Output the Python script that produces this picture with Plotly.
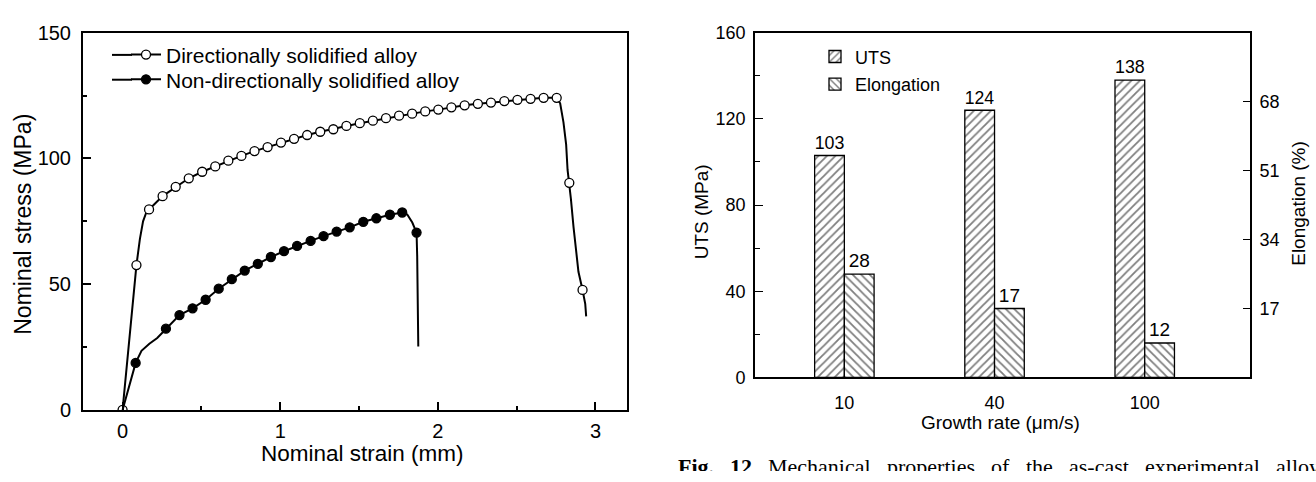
import plotly.graph_objects as go

# ---------------- Left chart data: stress-strain curves ----------------
# Directionally solidified alloy: marker points
ds_mx = [0.0, 0.088, 0.168, 0.254, 0.337, 0.42, 0.505, 0.588, 0.671, 0.754, 0.837, 0.92,
         1.005, 1.088, 1.171, 1.254, 1.337, 1.42, 1.505, 1.588, 1.671, 1.754, 1.837, 1.92,
         2.003, 2.086, 2.17, 2.254, 2.337, 2.422, 2.505, 2.588, 2.671, 2.754, 2.834, 2.918]
ds_my = [0.0, 57.6, 79.7, 85.0, 88.7, 92.1, 94.7, 96.8, 99.1, 101.0, 102.9, 104.5,
         106.3, 107.8, 109.3, 110.6, 111.6, 112.9, 114.0, 115.0, 116.0, 117.0, 117.8, 118.7,
         119.4, 120.3, 121.1, 121.7, 122.2, 122.8, 123.3, 123.7, 124.1, 124.1, 90.3, 47.7]
# Directionally solidified alloy: full curve path
ds_lx = [0.0, 0.04, 0.088, 0.11, 0.13, 0.15, 0.168, 0.254, 0.337, 0.42, 0.505, 0.588, 0.671,
         0.754, 0.837, 0.92, 1.005, 1.088, 1.171, 1.254, 1.337, 1.42, 1.505, 1.588, 1.671,
         1.754, 1.837, 1.92, 2.003, 2.086, 2.17, 2.254, 2.337, 2.422, 2.505, 2.588, 2.671,
         2.754, 2.776, 2.797, 2.814, 2.823, 2.834, 2.844, 2.861, 2.878, 2.892, 2.918, 2.935, 2.941]
ds_ly = [0.0, 26.0, 57.6, 68.0, 75.0, 78.4, 79.7, 85.0, 88.7, 92.1, 94.7, 96.8, 99.1,
         101.0, 102.9, 104.5, 106.3, 107.8, 109.3, 110.6, 111.6, 112.9, 114.0, 115.0, 116.0,
         117.0, 117.8, 118.7, 119.4, 120.3, 121.1, 121.7, 122.2, 122.8, 123.3, 123.7, 124.1,
         124.1, 121.9, 114.3, 105.5, 95.4, 90.3, 84.0, 72.6, 61.2, 54.9, 47.7, 42.2, 37.2]

# Non-directionally solidified alloy: marker points
nd_mx = [0.083, 0.275, 0.361, 0.444, 0.527, 0.61, 0.693, 0.775, 0.858, 0.941, 1.024, 1.107,
         1.193, 1.275, 1.358, 1.441, 1.527, 1.61, 1.696, 1.774, 1.865]
nd_my = [18.7, 32.3, 37.7, 40.4, 43.8, 48.2, 52.0, 55.4, 58.1, 60.8, 63.1, 65.2,
         67.2, 69.1, 70.9, 72.6, 74.8, 76.2, 77.6, 78.5, 70.5]
# Non-directionally solidified alloy: full curve path
nd_lx = [0.0, 0.04, 0.083, 0.12, 0.17, 0.22, 0.275, 0.361, 0.444, 0.527, 0.61, 0.693, 0.775,
         0.858, 0.941, 1.024, 1.107, 1.193, 1.275, 1.358, 1.441, 1.527, 1.61, 1.696, 1.774,
         1.806, 1.838, 1.865, 1.869, 1.872, 1.876]
nd_ly = [0.0, 9.0, 18.7, 23.5, 26.3, 28.6, 32.3, 37.7, 40.4, 43.8, 48.2, 52.0, 55.4,
         58.1, 60.8, 63.1, 65.2, 67.2, 69.1, 70.9, 72.6, 74.8, 76.2, 77.6, 78.5,
         77.7, 74.5, 70.5, 61.2, 45.0, 25.2]

series_names = ["Directionally solidified alloy", "Non-directionally solidified alloy"]

# ---------------- Right chart data: bars ----------------
growth_rates = ["10", "40", "100"]
uts_values = [103, 124, 138]
uts_labels = ["103", "124", "138"]
elong_bar_heights = [25.5, 17.0, 8.5]      # drawn bar heights
elong_labels = ["28", "17", "12"]           # printed labels above bars
right_ticks = [17, 34, 51, 68]

# figure caption (justified line, cut off by the bottom edge in the reference)
caption_words = ["<b>Fig.</b>", "<b>12</b>", "Mechanical", "properties", "of", "the",
                 "as-cast", "experimental", "alloy"]
caption_word_px = [678, 730, 768, 887, 991, 1026, 1069, 1145, 1276]

FONT = "Arial, Liberation Sans, sans-serif"
SERIF = "Times New Roman, Liberation Serif, serif"
W, H = 1316, 482

def px(xp):
    return xp / W

def py(yp):
    return 1 - yp / H

fig = go.Figure()

# Left chart curves
fig.add_trace(go.Scatter(x=ds_lx, y=ds_ly, mode="lines", line=dict(color="black", width=2),
                         showlegend=False, xaxis="x", yaxis="y", hoverinfo="skip"))
fig.add_trace(go.Scatter(x=ds_mx, y=ds_my, mode="markers",
                         marker=dict(symbol="circle", size=9, color="white",
                                     line=dict(color="black", width=1.3)),
                         showlegend=False, xaxis="x", yaxis="y"))
fig.add_trace(go.Scatter(x=nd_lx, y=nd_ly, mode="lines", line=dict(color="black", width=2),
                         showlegend=False, xaxis="x", yaxis="y", hoverinfo="skip"))
fig.add_trace(go.Scatter(x=nd_mx, y=nd_my, mode="markers",
                         marker=dict(symbol="circle", size=9, color="black",
                                     line=dict(color="black", width=1.3)),
                         showlegend=False, xaxis="x", yaxis="y"))
# legend entries (one legend box per entry so each row sits where the reference has it)
fig.add_trace(go.Scatter(x=[None], y=[None], mode="lines+markers", name=series_names[0],
                         line=dict(color="black", width=2),
                         marker=dict(symbol="circle", size=9, color="white",
                                     line=dict(color="black", width=1.3)),
                         xaxis="x", yaxis="y", legend="legend"))
fig.add_trace(go.Scatter(x=[None], y=[None], mode="lines+markers", name=series_names[1],
                         line=dict(color="black", width=2),
                         marker=dict(symbol="circle", size=9, color="black",
                                     line=dict(color="black", width=1.3)),
                         xaxis="x", yaxis="y", legend="legend3"))

# Right chart bars
idx = list(range(len(growth_rates)))
BW = 0.198
fig.add_trace(go.Bar(x=idx, y=uts_values, name="UTS", width=BW, offset=-BW,
                     marker=dict(color="white", line=dict(color="black", width=1.3),
                                 pattern=dict(shape="/", fgcolor="black", bgcolor="white",
                                              size=6, solidity=0.3)),
                     text=uts_labels, textposition="outside", cliponaxis=False,
                     textfont=dict(family=FONT, size=19, color="black"),
                     xaxis="x2", yaxis="y2", legend="legend2"))
fig.add_trace(go.Bar(x=idx, y=elong_bar_heights, name="Elongation", width=BW, offset=0,
                     marker=dict(color="white", line=dict(color="black", width=1.3),
                                 pattern=dict(shape="\\", fgcolor="black", bgcolor="white",
                                              size=6, solidity=0.3)),
                     text=elong_labels, textposition="outside", cliponaxis=False,
                     textfont=dict(family=FONT, size=19, color="black"),
                     xaxis="x2", yaxis="y3", legend="legend4"))

# Caption text, drawn in a hidden strip along the bottom so the page edge cuts it
fig.add_trace(go.Scatter(x=caption_word_px, y=[2.2] * len(caption_word_px), mode="text",
                         text=caption_words, textposition="middle right",
                         textfont=dict(family=SERIF, size=22, color="black"),
                         showlegend=False, hoverinfo="skip", cliponaxis=True,
                         xaxis="x3", yaxis="y4"))

axis_common = dict(showline=True, linecolor="black", mirror=True, showgrid=False,
                   zeroline=False, ticks="inside", tickcolor="black", color="black")

left_dom_x = [px(83), px(627)]
left_dom_y = [py(418), py(22.7)]
right_dom_x = [px(755), px(1250)]
right_dom_y = [py(384), py(22.7)]

def one_legend(xp, yp, size):
    return dict(x=px(xp), y=py(yp), xanchor="left", yanchor="middle",
                bgcolor="rgba(0,0,0,0)", font=dict(size=size, family=FONT),
                itemwidth=30)

fig.update_layout(
    width=W, height=H,
    margin=dict(l=0, r=0, t=0, b=0),
    paper_bgcolor="white", plot_bgcolor="white",
    font=dict(family=FONT, color="black"),
    barmode="overlay",
    xaxis=dict(**axis_common, domain=left_dom_x, anchor="y", range=[-0.251, 3.2],
               tickvals=[0, 1, 2, 3], ticklen=8, tickwidth=1.5, linewidth=2,
               minor=dict(ticks="inside", tickvals=[0.5, 1.5, 2.5], ticklen=4,
                          tickwidth=1.5, tickcolor="black"),
               tickfont=dict(size=20), ticklabelstandoff=2),
    yaxis=dict(**axis_common, domain=left_dom_y, anchor="x", range=[0, 150],
               tickvals=[0, 50, 100, 150], ticklen=8, tickwidth=1.5, linewidth=2,
               minor=dict(ticks="inside", tickvals=[25, 75, 125], ticklen=4,
                          tickwidth=1.5, tickcolor="black"),
               tickfont=dict(size=20), ticklabelstandoff=6),
    xaxis2=dict(**{k: v for k, v in axis_common.items() if k != "ticks"}, ticks="",
                domain=right_dom_x, anchor="y2", range=[-0.595, 2.701],
                tickvals=idx, ticktext=growth_rates, linewidth=1.6,
                tickfont=dict(size=18), ticklabelstandoff=8),
    yaxis2=dict(showline=True, linecolor="black", linewidth=1.6, showgrid=False,
                zeroline=False, ticks="inside", tickcolor="black", color="black",
                domain=right_dom_y, anchor="x2", range=[0, 160],
                tickvals=[0, 40, 80, 120, 160], ticklen=8, tickwidth=1.3,
                minor=dict(ticks="inside", tickvals=[20, 60, 100, 140], ticklen=5,
                           tickwidth=1.3, tickcolor="black"),
                tickfont=dict(size=18), ticklabelstandoff=4),
    yaxis3=dict(showline=True, linecolor="black", linewidth=1.6, showgrid=False,
                zeroline=False, ticks="inside", tickcolor="black", color="black",
                overlaying="y2", side="right", anchor="x2", range=[0, 85],
                tickvals=right_ticks, ticklen=7, tickwidth=1.3,
                tickfont=dict(size=18), ticklabelstandoff=4),
    xaxis3=dict(domain=[0, 1], range=[0, W], visible=False, fixedrange=True, anchor="y4"),
    yaxis4=dict(domain=[0, 30 / H], range=[0, 30], visible=False, fixedrange=True,
                anchor="x3"),
    legend=one_legend(126, 46, 21),
    legend3=one_legend(126, 72, 21),
    legend2=one_legend(815, 48, 18),
    legend4=one_legend(815, 77, 18),
    showlegend=True,
)

# extend the legend line samples to the left, as in the reference
fig.update_layout(shapes=[
    dict(type="line", xref="paper", yref="paper", x0=px(112), x1=px(132),
         y0=py(46), y1=py(46), line=dict(color="black", width=2)),
    dict(type="line", xref="paper", yref="paper", x0=px(112), x1=px(132),
         y0=py(72), y1=py(72), line=dict(color="black", width=2)),
])

annotations = [
    dict(text="Nominal strain (mm)", x=px(362), y=py(464), xref="paper", yref="paper",
         showarrow=False, font=dict(size=22.5, family=FONT), xanchor="center", yanchor="middle"),
    dict(text="Nominal stress (MPa)", x=px(23), y=py(224), xref="paper", yref="paper",
         showarrow=False, textangle=-90, font=dict(size=23, family=FONT),
         xanchor="center", yanchor="middle"),
    dict(text="Growth rate (\u03bcm/s)", x=px(1000), y=py(431), xref="paper", yref="paper",
         showarrow=False, font=dict(size=19, family=FONT), xanchor="center", yanchor="middle"),
    dict(text="UTS (MPa)", x=px(701), y=py(211), xref="paper", yref="paper",
         showarrow=False, textangle=-90, font=dict(size=19, family=FONT),
         xanchor="center", yanchor="middle"),
    dict(text="Elongation (%)", x=px(1299), y=py(202), xref="paper", yref="paper",
         showarrow=False, textangle=-90, font=dict(size=19, family=FONT),
         xanchor="center", yanchor="middle"),
]
fig.update_layout(annotations=annotations)

fig.write_html("out.html")
